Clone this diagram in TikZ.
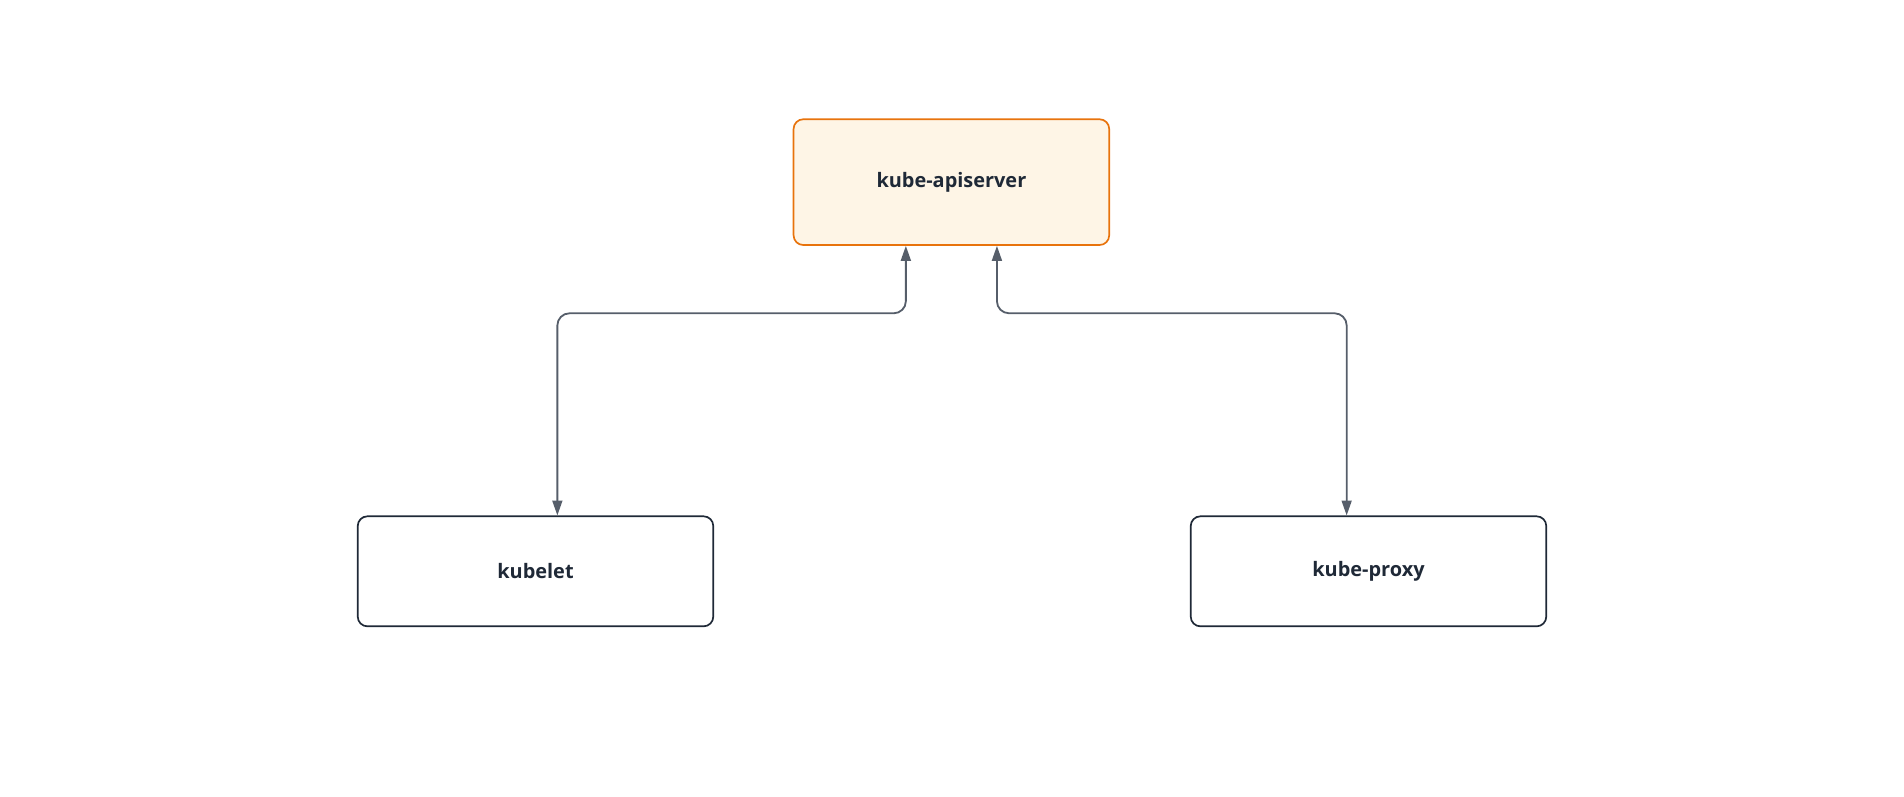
\documentclass[tikz,border=0pt]{standalone}
\usepackage{fontspec}
\setmainfont{Open Sans}
\usetikzlibrary{arrows.meta}
\definecolor{orng}{HTML}{E8730C}
\definecolor{orfill}{HTML}{FEF5E6}
\definecolor{dark}{HTML}{1F2937}
\definecolor{conn}{HTML}{565E6A}
\begin{document}
\begin{tikzpicture}[x=0.03cm,y=-0.03cm,
  box/.style={draw=dark,line width=1.4pt*0.85,rounded corners=8*0.85pt,fill=white,inner sep=0,font=\fontsize{14}{16}\selectfont\bfseries,text=dark},
  hot/.style={box,draw=orng,fill=orfill},
  link/.style={draw=conn,line width=1.5*0.85pt,rounded corners=10*0.85pt,{Triangle[length=10.5pt,width=7pt]}-{Triangle[length=10.5pt,width=7pt]}}]
\useasboundingbox (0,0) rectangle (1568,656);
\node[hot,minimum width=261*0.85pt,minimum height=104*0.85pt] (api) at (783.5,150) {kube-apiserver};
\node[box,minimum width=294*0.85pt,minimum height=91*0.85pt] (kl) at (441,470.5) {kubelet};
\node[box,minimum width=294*0.85pt,minimum height=91*0.85pt] (kp) at (1127,470.5) {kube-proxy};
\coordinate (a1) at (746,258);
\coordinate (a2) at (821,258);
\draw[link] (api.south -| a1) -- (a1) -- (a1 -| 459,0) -- (kl.north -| 459,0);
\draw[link] (api.south -| a2) -- (a2) -- (a2 -| 1109,0) -- (kp.north -| 1109,0);
\end{tikzpicture}
\end{document}
